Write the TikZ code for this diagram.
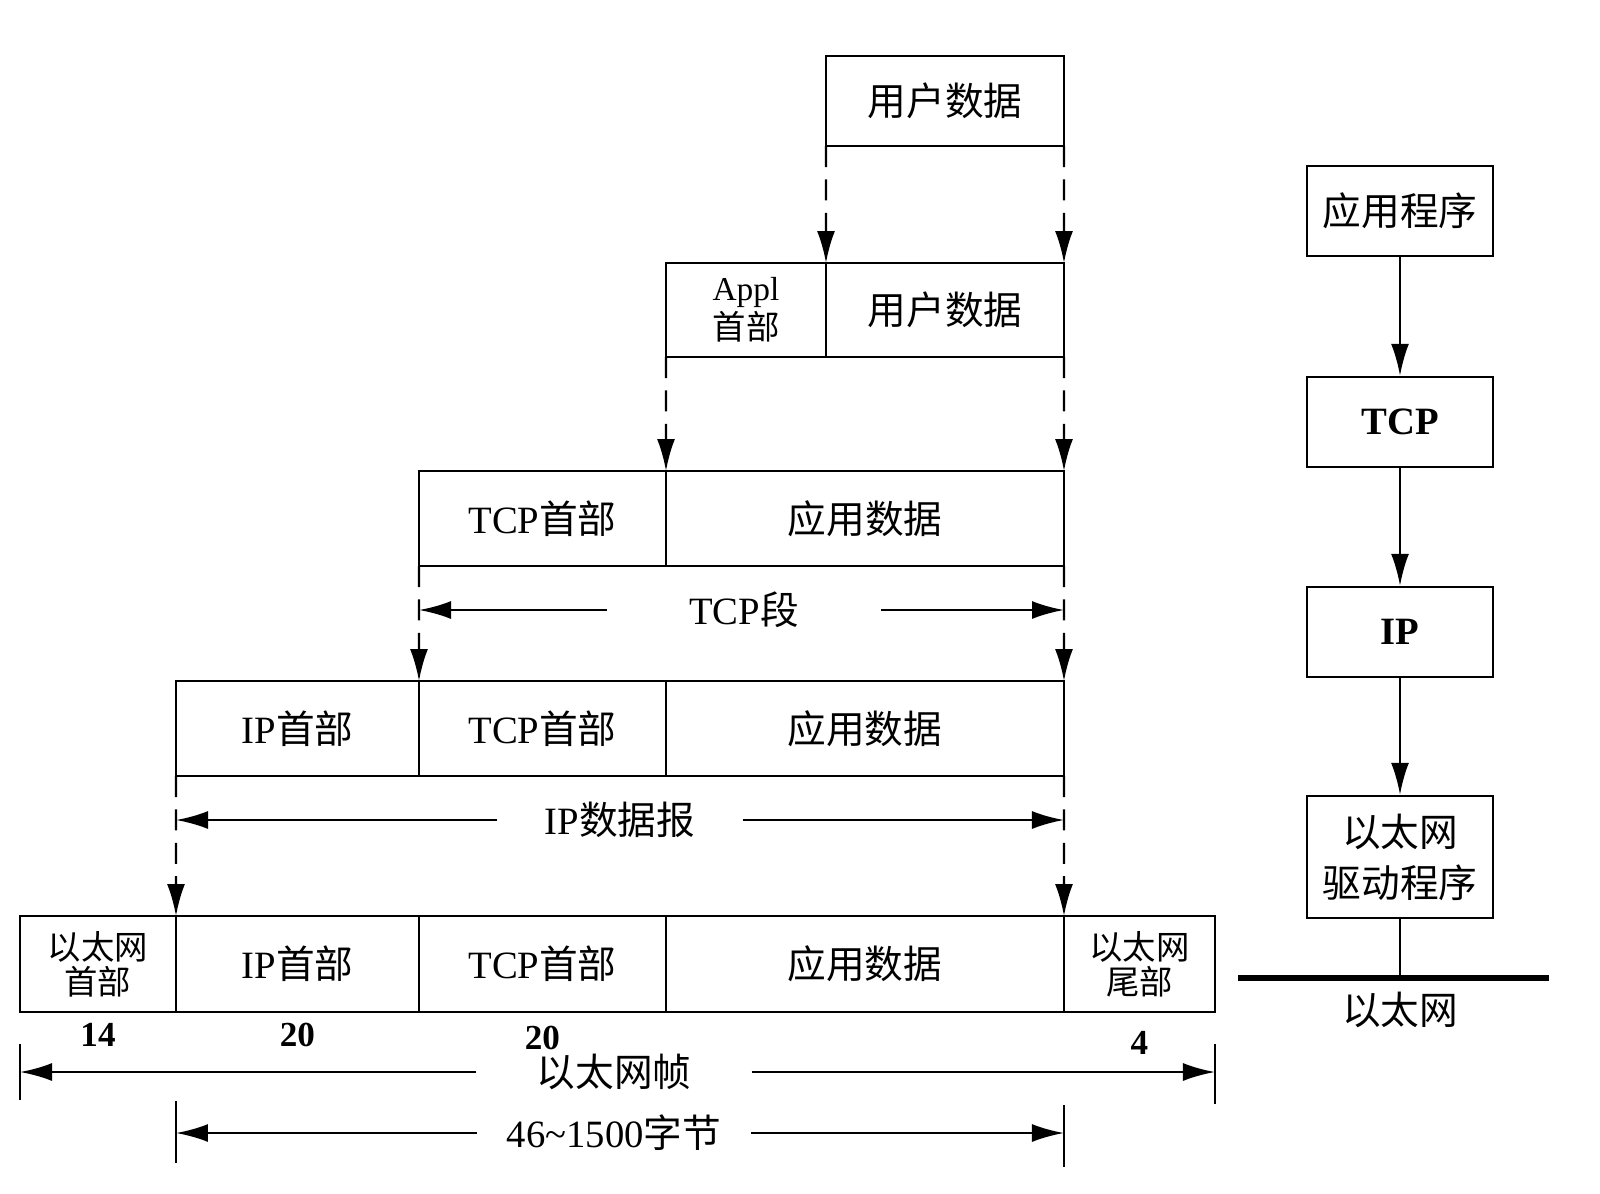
\documentclass[tikz,border=0pt]{standalone}
\usepackage{fontspec}
\setmainfont{Liberation Serif}
\newfontfamily\cjk{Noto Sans CJK SC}
\usetikzlibrary{positioning, arrows.meta}

\begin{document}
\begin{tikzpicture}[x=0.1mm, y=-0.1mm, line width=0.7pt,
    cell/.style={draw, inner sep=0pt, outer sep=0pt, align=center, font=\fontsize{11}{13}\selectfont},
    small/.style={font=\fontsize{9.5}{10}\selectfont},
    layer/.style={draw, inner sep=0pt, align=center, minimum width=18.6mm, minimum height=9mm, font=\fontsize{11}{14.5}\selectfont},
    dim/.style={inner sep=0pt, font=\fontsize{11}{13}\selectfont},
    num/.style={inner sep=0pt, font=\fontsize{10}{12}\selectfont\bfseries},
    push/.style={dash pattern=on 6pt off 3.5pt, -{Latex[length=3.2mm,width=1.8mm]}},
    tip/.style={-{Latex[length=3.2mm,width=1.8mm]}}]
\useasboundingbox (0,0) rectangle (1600,1193);

% user data and its headers, one row per layer
\node[cell, anchor=north west, minimum width=23.8mm, minimum height=9mm] (user) at (826,56) {\cjk 用户数据};

\node[cell, small, anchor=north west, minimum width=16mm, minimum height=9.4mm] (apphdr) at (666,263) {Appl\\{\cjk 首部}};
\node[cell, right=0pt of apphdr, minimum width=23.8mm, minimum height=9.4mm] (userdata) {\cjk 用户数据};

\node[cell, anchor=north west, minimum width=24.7mm, minimum height=9.5mm] (tcphdr1) at (419,471) {TCP{\cjk 首部}};
\node[cell, right=0pt of tcphdr1, minimum width=39.8mm, minimum height=9.5mm] (appdata1) {\cjk 应用数据};

\node[cell, anchor=north west, minimum width=24.3mm, minimum height=9.5mm] (iphdr2) at (176,681) {IP{\cjk 首部}};
\node[cell, right=0pt of iphdr2, minimum width=24.7mm, minimum height=9.5mm] (tcphdr2) {TCP{\cjk 首部}};
\node[cell, right=0pt of tcphdr2, minimum width=39.8mm, minimum height=9.5mm] (appdata2) {\cjk 应用数据};

\node[cell, small, anchor=north west, minimum width=15.6mm, minimum height=9.6mm] (ethhdr) at (20,916) {{\cjk 以太网}\\{\cjk 首部}};
\node[cell, right=0pt of ethhdr, minimum width=24.3mm, minimum height=9.6mm] (iphdr3) {IP{\cjk 首部}};
\node[cell, right=0pt of iphdr3, minimum width=24.7mm, minimum height=9.6mm] (tcphdr3) {TCP{\cjk 首部}};
\node[cell, right=0pt of tcphdr3, minimum width=39.8mm, minimum height=9.6mm] (appdata3) {\cjk 应用数据};
\node[cell, small, right=0pt of appdata3, minimum width=15.1mm, minimum height=9.6mm] (ethtrl) {{\cjk 以太网}\\{\cjk 尾部}};

% encapsulation
\foreach \a/\b in {user.south west/apphdr.north east, user.south east/userdata.north east,
    apphdr.south west/tcphdr1.north east, userdata.south east/appdata1.north east,
    tcphdr1.south west/iphdr2.north east, appdata1.south east/appdata2.north east,
    iphdr2.south west/ethhdr.north east, appdata2.south east/appdata3.north east}
  \draw[push] (\a) -- (\b);

% sizes
\node[num, below=1mm of ethhdr] (n14) {14};
\node[num, below=1mm of iphdr3] (n20a) {20};
\node[num, below=1.3mm of tcphdr3] (n20b) {20};
\node[num, below=1.8mm of ethtrl] (n4) {4};

\node[dim, minimum width=27.2mm] (tcpseg) at (744,610) {TCP{\cjk 段}};
\draw[tip] (tcpseg.west) -- (tcpseg.west -| tcphdr1.west);
\draw[tip] (tcpseg.east) -- (tcpseg.east -| appdata1.east);

\node[dim, minimum width=24.3mm] (ipdgm) at (620,820) {IP{\cjk 数据报}};
\draw[tip] (ipdgm.west) -- (ipdgm.west -| iphdr2.west);
\draw[tip] (ipdgm.east) -- (ipdgm.east -| appdata2.east);

\node[dim, minimum width=27.3mm] (frame) at (614,1072) {\cjk 以太网帧};
\draw[tip] (frame.west) -- (frame.west -| ethhdr.west);
\draw[tip] (frame.east) -- (frame.east -| ethtrl.east);
\draw (frame.west -| ethhdr.west) ++(0,-28) -- ++(0,56);
\draw (frame.east -| ethtrl.east) ++(0,-28) -- ++(0,60);

\node[dim, minimum width=27.2mm] (payload) at (614,1133) {46\textasciitilde1500{\cjk 字节}};
\draw[tip] (payload.west) -- (payload.west -| iphdr3.west);
\draw[tip] (payload.east) -- (payload.east -| appdata3.east);
\draw (payload.west -| iphdr3.west) ++(0,-32) -- ++(0,62);
\draw (payload.east -| appdata3.east) ++(0,-28) -- ++(0,62);

% protocol stack
\node[layer] (app) at (1400,211) {\cjk 应用程序};
\node[layer] (tcp) at (1400,422) {\textbf{TCP}};
\node[layer] (ip) at (1400,632) {\textbf{IP}};
\node[layer, minimum height=12.2mm] (drv) at (1400,857) {{\cjk 以太网}\\{\cjk 驱动程序}};
\foreach \a/\b in {app/tcp, tcp/ip, ip/drv}
  \draw[tip] (\a) -- (\b);

\coordinate (lanl) at (1238,978);
\coordinate (lanr) at (1549,978);
\draw[line width=1.8pt] (lanl) -- (lanr);
\draw (drv) -- (drv.south |- lanl);
\node[dim] (lan) at (1400,1010) {\cjk 以太网};
\end{tikzpicture}
\end{document}
